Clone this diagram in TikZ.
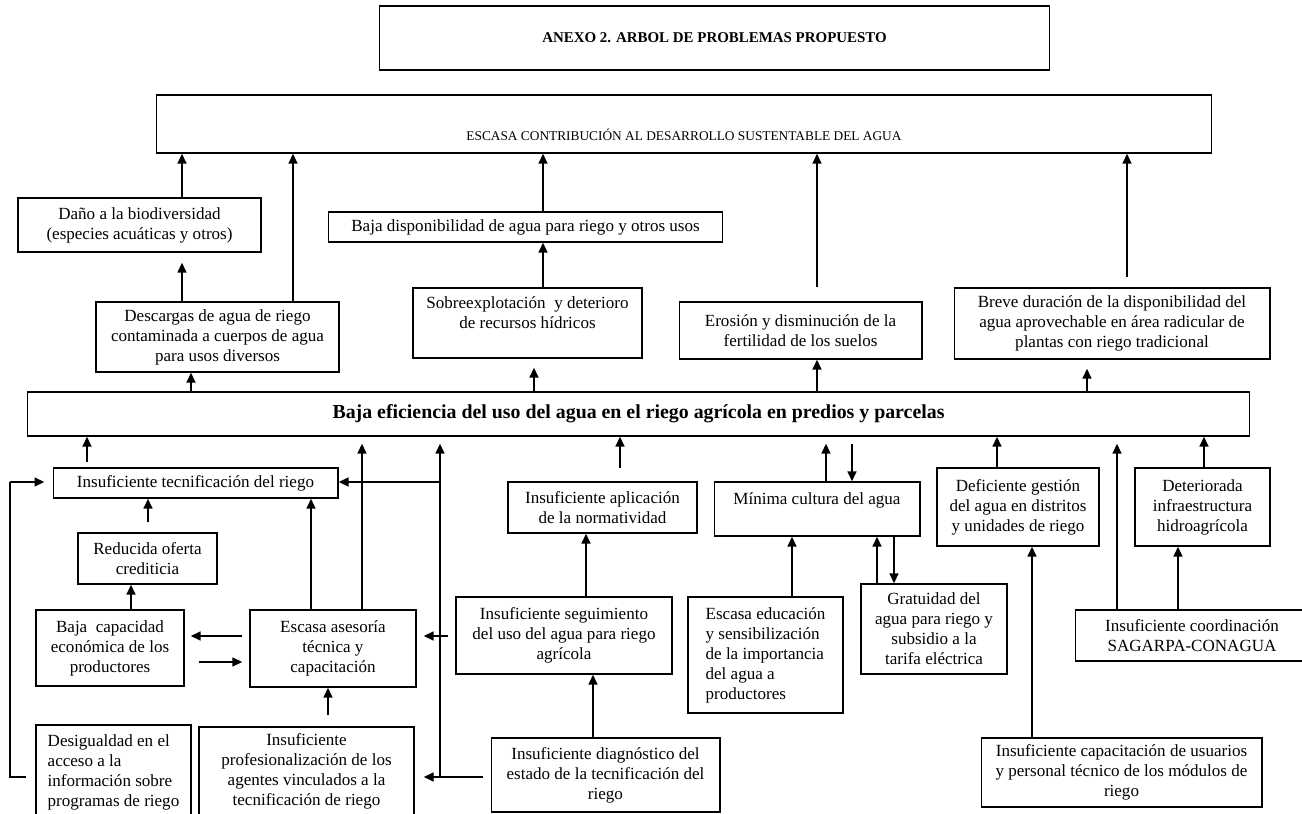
\documentclass[tikz,border=0pt]{standalone}
\usepackage{fontspec}
\setmainfont{Liberation Serif}
\usetikzlibrary{arrows.meta}

\tikzset{
  caja/.style={draw, line width=0.6pt, align=center, inner sep=0pt,
    font=\fontsize{9.7pt}{11.4pt}\selectfont},
  flecha/.style={line width=1.5pt, -{Triangle[length=0.2cm,width=0.17cm]}},
  delgada/.style={line width=0.6pt},
}

\begin{document}
\begin{tikzpicture}[x=0.02cm, y=-0.02cm]
        \useasboundingbox (0,0) rectangle (1302,814);
        \clip (0,0) rectangle (1302,814);

        % titulo y efecto final
        \node[caja, minimum width=13.42cm, minimum height=1.28cm,
          font=\fontsize{8.5pt}{10pt}\selectfont\bfseries] (titulo) at (714.5,38) {ANEXO 2. ARBOL DE PROBLEMAS PROPUESTO};
        \node[caja, minimum width=21.12cm, minimum height=1.16cm, text height=0.9cm, text depth=0.24cm,
          font=\fontsize{7.6pt}{9pt}\selectfont] (efecto) at (684,124) {ESCASA CONTRIBUCIÓN AL DESARROLLO SUSTENTABLE DEL AGUA};

        % efectos
        \node[caja, minimum width=4.86cm, minimum height=1.08cm] (dano) at (139.5,225) {Daño a la biodiversidad\\(especies acuáticas y otros)};
        \node[caja, minimum width=7.9cm, minimum height=0.6cm] (disponib) at (525.5,227) {Baja disponibilidad de agua para riego y otros usos};
        \node[caja, minimum width=4.86cm, minimum height=1.4cm] (descargas) at (217.5,337) {Descargas de agua de riego\\contaminada a cuerpos de agua\\para usos diversos};
        \node[caja, minimum width=4.58cm, minimum height=1.4cm] (sobreexp) at (527.5,323) {Sobreexplotación\ \ y deterioro\\de recursos hídricos\\\mbox{}};
        \node[caja, minimum width=4.86cm, minimum height=1.14cm] (erosion) at (800.5,330.5) {Erosión y disminución de la\\fertilidad de los suelos};
        \node[caja, minimum width=6.32cm, minimum height=1.42cm] (breve) at (1112,323.5) {Breve duración de la disponibilidad del\\agua aprovechable en área radicular de\\plantas con riego tradicional};

        % problema central
        \node[caja, minimum width=24.46cm, minimum height=0.88cm,
          font=\fontsize{11.3pt}{13pt}\selectfont\bfseries] (problema) at (638.5,414) {Baja eficiencia del uso del agua en el riego agrícola en predios y parcelas};

        % causas
        \node[caja, minimum width=5.7cm, minimum height=0.6cm] (tecnif) at (195.5,483) {Insuficiente tecnificación del riego};
        \node[caja, minimum width=3.78cm, minimum height=1.02cm] (aplicacion) at (602.5,507.5) {Insuficiente aplicación\\de la normatividad};
        \node[caja, minimum width=4.12cm, minimum height=1.08cm] (cultura) at (817,509) {Mínima cultura del agua\\\mbox{}};
        \node[caja, minimum width=3.24cm, minimum height=1.56cm] (gestion) at (1018,507) {Deficiente gestión\\del agua en distritos\\y unidades de riego};
        \node[caja, minimum width=2.7cm, minimum height=1.56cm] (infra) at (1202.5,507) {Deteriorada\\infraestructura\\hidroagrícola};
        \node[caja, minimum width=2.78cm, minimum height=1.02cm] (credito) at (147.5,558.5) {Reducida oferta\\crediticia};
        \node[caja, minimum width=2.96cm, minimum height=1.52cm] (capacidad) at (110,648) {Baja\ \ capacidad\\económica de los\\productores};
        \node[caja, minimum width=3.32cm, minimum height=1.54cm] (asesoria) at (333,648.5) {Escasa asesoría\\técnica y\\capacitación};
        \node[caja, minimum width=4.32cm, minimum height=1.54cm] (seguimiento) at (564,635.5) {Insuficiente seguimiento\\del uso del agua para riego\\agrícola};
        \node[caja, align=left, minimum width=3.1cm, minimum height=2.32cm] (educacion) at (765.5,655) {Escasa educación\\y sensibilización\\de la importancia\\del agua a\\productores};
        \node[caja, minimum width=2.92cm, minimum height=1.8cm] (gratuidad) at (934,629) {Gratuidad del\\agua para riego y\\subsidio a la\\tarifa eléctrica};
        \node[caja, minimum width=4.68cm, minimum height=1.02cm] (coordinacion) at (1192,635.5) {Insuficiente coordinación\\SAGARPA-CONAGUA};
        \node[caja, align=left, minimum width=3.1cm, minimum height=1.9cm] (desigualdad) at (113.5,772.5) {Desigualdad en el\\acceso a la\\información sobre\\programas de riego};
        \node[caja, minimum width=4.3cm, minimum height=1.76cm] (profesional) at (306.5,771) {Insuficiente\\profesionalización de los\\agentes vinculados a la\\tecnificación de riego};
        \node[caja, minimum width=4.58cm, minimum height=1.48cm] (diagnostico) at (605.5,775) {Insuficiente diagnóstico del\\estado de la tecnificación del\\riego};
        \node[caja, minimum width=5.62cm, minimum height=1.38cm] (capacitacion) at (1121.5,772.5) {Insuficiente capacitación de usuarios\\y personal técnico de los módulos de\\riego};

        % efectos hacia arriba
        \draw[flecha] (dano.north -| 182,0) -- (efecto.south -| 182,0);
        \draw[flecha] (descargas.north -| 293,0) -- (efecto.south -| 293,0);
        \draw[flecha] (disponib.north -| 543,0) -- (efecto.south -| 543,0);
        \draw[flecha, shorten <=0.28cm] (erosion.north -| 817,0) -- (efecto.south -| 817,0);
        \draw[flecha, shorten <=0.2cm] (breve.north -| 1127,0) -- (efecto.south -| 1127,0);
        \draw[flecha, shorten >=0.2cm] (descargas.north -| 182,0) -- (dano.south -| 182,0);
        \draw[flecha] (sobreexp.north -| 543,0) -- (disponib.south -| 543,0);
        \draw[flecha] (problema.north -| 191,0) -- (descargas.south -| 191,0);
        \draw[flecha, shorten >=0.18cm] (problema.north -| 534,0) -- (sobreexp.south -| 534,0);
        \draw[flecha] (problema.north -| 817,0) -- (erosion.south -| 817,0);
        \draw[flecha, shorten >=0.18cm] (problema.north -| 1087,0) -- (breve.south -| 1087,0);

        % causas hacia el problema central
        \draw[flecha, shorten <=0.1cm] (tecnif.north -| 87,0) -- (problema.south -| 87,0);
        \draw[flecha, shorten >=0.14cm] (asesoria.north -| 362,0) -- (problema.south -| 362,0);
        \draw[flecha, shorten <=0.26cm] (aplicacion.north -| 620,0) -- (problema.south -| 620,0);
        \draw[flecha, shorten >=0.14cm] (cultura.north -| 826,0) -- (problema.south -| 826,0);
        \draw[flecha, shorten <=0.14cm] (problema.south -| 852,0) -- (cultura.north -| 852,0);
        \draw[flecha] (gestion.north -| 997,0) -- (problema.south -| 997,0);
        \draw[flecha, shorten >=0.14cm] (coordinacion.north -| 1117,0) -- (problema.south -| 1117,0);
        \draw[flecha] (infra.north -| 1204,0) -- (problema.south -| 1204,0);

        % lado izquierdo
        \draw[flecha, shorten <=0.2cm] (credito.north -| 148,0) -- (tecnif.south -| 148,0);
        \draw[flecha] (asesoria.north -| 311,0) -- (tecnif.south -| 311,0);
        \draw[flecha] (capacidad.north -| 131,0) -- (credito.south -| 131,0);
        \draw[flecha, shorten <=0.14cm, shorten >=0.12cm] (asesoria.west |- 0,636) -- (capacidad.east |- 0,636);
        \draw[flecha, shorten <=0.28cm, shorten >=0.14cm] (capacidad.east |- 0,662) -- (asesoria.west |- 0,662);
        \draw[flecha, shorten <=0.22cm] (profesional.north -| 328,0) -- (asesoria.south -| 328,0);
        \draw[flecha, shorten <=0.16cm, shorten >=0.14cm] (seguimiento.west |- 0,636) -- (asesoria.east |- 0,636);

        % diagnostico y desigualdad
        \coordinate (nudo) at (440,777);
        \coordinate (rama) at (440,482);
        \coordinate (esquina) at (10,482);
        \draw[flecha, shorten <=0.16cm, shorten >=0.18cm] (diagnostico.west |- nudo) -- (profesional.east |- nudo);
        \draw[delgada] (nudo) -- (rama);
        \draw[flecha, shorten >=0.14cm] (rama) -- (problema.south -| rama);
        \draw[flecha] (rama) -- (tecnif.east |- rama);
        \draw[delgada, shorten <=0.18cm] (desigualdad.west |- nudo) -- (esquina |- nudo) -- (esquina);
        \draw[flecha, shorten >=0.16cm] (esquina) -- (tecnif.west |- esquina);

        % centro
        \draw[flecha] (diagnostico.north -| 593,0) -- (seguimiento.south -| 593,0);
        \draw[flecha] (seguimiento.north -| 586,0) -- (aplicacion.south -| 586,0);
        \draw[flecha] (educacion.north -| 792,0) -- (cultura.south -| 792,0);
        \draw[flecha] (gratuidad.north -| 877,0) -- (cultura.south -| 877,0);
        \draw[flecha] (cultura.south -| 894,0) -- (gratuidad.north -| 894,0);

        % derecha
        \draw[flecha] (capacitacion.north -| 1032,0) -- (gestion.south -| 1032,0);
        \draw[flecha] (coordinacion.north -| 1178,0) -- (infra.south -| 1178,0);
    \end{tikzpicture}
\end{document}
